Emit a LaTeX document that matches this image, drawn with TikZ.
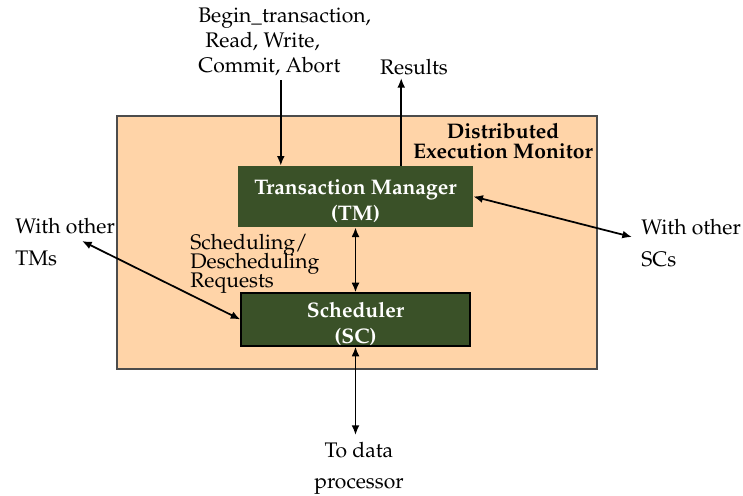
\documentclass[tikz,border=0pt,12pt]{standalone}
\usepackage[T1]{fontenc}
\usepackage{mathpazo}
\usetikzlibrary{arrows.meta,calc}

\definecolor{peach}{RGB}{255,212,168}
\definecolor{tmgreen}{RGB}{58,81,40}

\tikzset{
  lbl/.style={inner sep=0pt, align=left},
  unit/.style={fill=tmgreen, text=white, align=center, inner sep=0pt, text height=28.2pt,
    font=\bfseries\fontsize{12}{14.7}\selectfont},
  flow/.style={line width=1pt, -{Latex[length=5.5pt,width=4.5pt]}},
  dflow/.style={line width=1pt, {Latex[length=5.5pt,width=4.5pt]}-{Latex[length=5.5pt,width=4.5pt]}},
}

\begin{document}
\begin{tikzpicture}[x=0.02cm, y=-0.02cm]
\useasboundingbox (0,0) rectangle (743,495);

% monitor and its two parts
\node (dem) [draw=black!70, line width=0.8pt, fill=peach, minimum width=9.6cm, minimum height=5.06cm] at (357,242.5) {};
\node (demlbl) [lbl, align=center, font=\bfseries\fontsize{12}{11.4}\selectfont] at (503,141) {Distributed\\Execution Monitor};
\node (tm) [unit, minimum width=4.7cm, minimum height=1.22cm] at (355.5,196.5) {Transaction Manager\\(TM)};
\node (sc) [unit, draw=black, line width=0.7pt, minimum width=4.58cm, minimum height=1.06cm] at (355.5,319.5) {Scheduler\\(SC)};

% outside labels
\node (ops) [lbl, anchor=west, font=\fontsize{12}{14.2}\selectfont] at (198,42) {Begin\_transaction,\\\hspace{4pt}Read, Write,\\Commit, Abort};
\node (res) [lbl] at (414,67) {Results};
\node (req) [lbl, anchor=west, font={\fontsize{12}{10.8}\selectfont\lineskiplimit=-6pt\relax}] at (190,263.5) {Scheduling/\\Descheduling\\Requests};
\node (tms) [lbl, anchor=west, font=\fontsize{12}{18.1}\selectfont] at (15,242) {With other\\TMs};
\node (scs) [lbl, anchor=west, font=\fontsize{12}{18.1}\selectfont] at (641,243) {With other\\SCs};
\node (dp) [lbl, align=center, font=\fontsize{12}{17.6}\selectfont] at (359,468.5) {To data\\processor};

\coordinate (tmsend) at (82,241);
\coordinate (scsend) at (632,237);
\coordinate (resfoot) at ($(tm.north west)!0.694!(tm.north east)$);
\coordinate (opsfoot) at ($(tm.north west)!0.183!(tm.north east)$);

% connectors
\draw[flow] (opsfoot |- 0,80) -- (opsfoot);
\draw[flow] (resfoot) -- (resfoot |- 0,78);
\draw[dflow] (tm.south) -- (sc.north);
\draw[dflow] (tmsend) -- (sc.west);
\draw[dflow] (tm.east) -- (scsend);
\draw[dflow] (sc.south) -- (sc.south |- 0,435);
\end{tikzpicture}
\end{document}
